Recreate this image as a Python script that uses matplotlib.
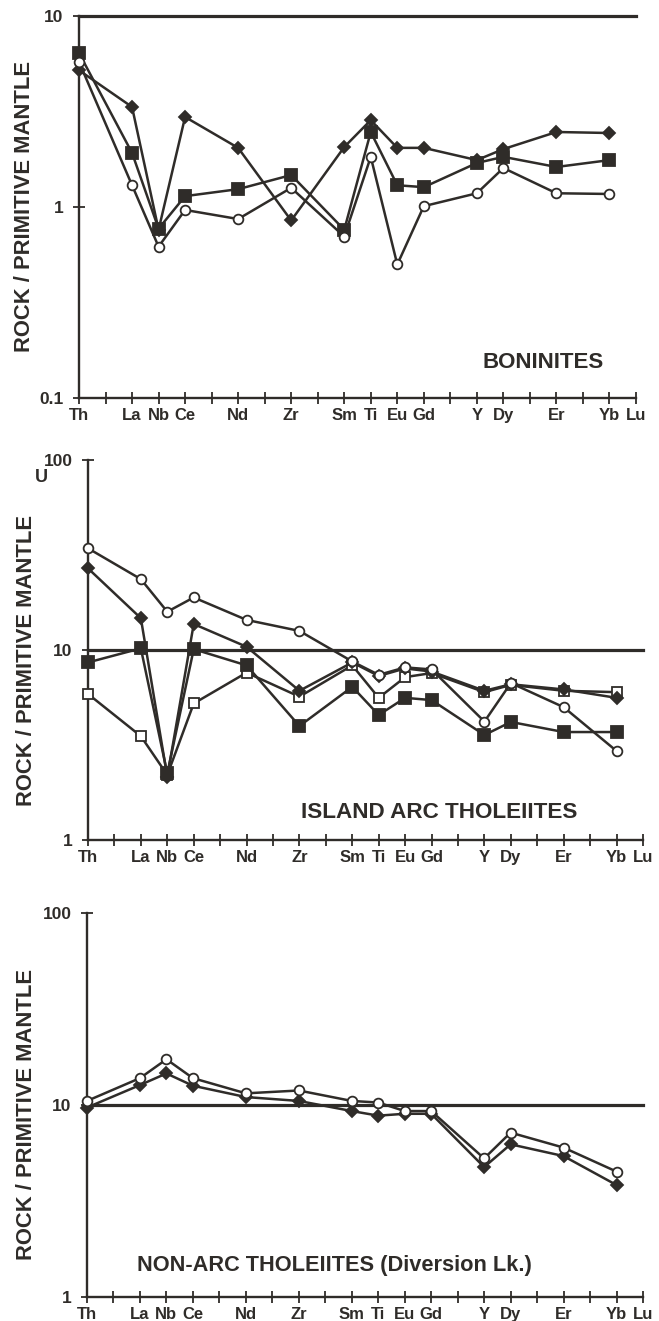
import matplotlib.pyplot as plt
from matplotlib.ticker import FixedLocator, NullLocator, FixedFormatter

# ------------------------------------------------------------
# Primitive-mantle normalised spider diagrams, three panels
# ------------------------------------------------------------

plt.rcParams['font.family'] = ['Liberation Sans', 'DejaVu Sans']

INK = '#2f2c29'

# element order along the x axis ('' = tick without a label)
tick_labels = ['Th', '', 'La', 'Nb', 'Ce', '', 'Nd', '', 'Zr', '', 'Sm',
               'Ti', 'Eu', 'Gd', '', 'Y', 'Dy', '', 'Er', '', 'Yb', 'Lu']
elements = ['Th', 'La', 'Nb', 'Ce', 'Nd', 'Zr', 'Sm', 'Ti', 'Eu', 'Gd',
            'Y', 'Dy', 'Er', 'Yb']
xpos = [tick_labels.index(e) for e in elements]

# --- boninites ---
bon_diamond = [5.2, 3.34, 0.76, 2.96, 2.04, 0.85, 2.06, 2.85, 2.04, 2.04, 1.76, 2.01, 2.47, 2.44]
bon_square  = [6.4, 1.92, 0.77, 1.14, 1.24, 1.47, 0.76, 2.47, 1.30, 1.27, 1.70, 1.83, 1.62, 1.76]
bon_circle  = [5.75, 1.30, 0.62, 0.965, 0.865, 1.26, 0.70, 1.83, 0.50, 1.01, 1.18, 1.60, 1.18, 1.17]

# --- island arc tholeiites ---
iat_circle  = [34.3, 23.6, 15.9, 18.9, 14.4, 12.6, 8.7, 7.4, 8.1, 7.9, 4.2, 6.7, 5.0, 2.94]
iat_diamond = [26.9, 14.7, 2.15, 13.7, 10.4, 6.1, 8.6, 7.3, 8.0, 7.7, 6.1, 6.6, 6.2, 5.6]
iat_fsquare = [8.6, 10.2, 2.24, 10.1, 8.3, 3.98, 6.4, 4.55, 5.6, 5.45, 3.57, 4.18, 3.7, 3.7]
iat_osquare = [5.87, 3.52, 2.2, 5.23, 7.6, 5.68, 8.3, 5.6, 7.2, 7.56, 6.0, 6.55, 6.1, 6.0]

# --- non-arc tholeiites (Diversion Lk.) ---
nat_circle  = [10.5, 13.8, 17.3, 13.8, 11.5, 11.9, 10.5, 10.3, 9.3, 9.3, 5.27, 7.18, 6.0, 4.5]
nat_diamond = [9.7, 12.7, 14.6, 12.6, 11.0, 10.5, 9.3, 8.8, 9.0, 9.0, 4.75, 6.24, 5.42, 3.83]

W, H = 659, 1321
fig = plt.figure(figsize=(W / 100, H / 100), dpi=100)
fig.patch.set_facecolor('white')


def px_axes(x0, x1, ytop, ybot):
    return fig.add_axes([x0 / W, 1 - ybot / H, (x1 - x0) / W, (ybot - ytop) / H])


def style(ax, ylim, yticks, ylabels):
    ax.set_yscale('log')
    ax.set_xlim(0, len(tick_labels) - 1)
    ax.set_ylim(*ylim)
    for s in ('top', 'right'):
        ax.spines[s].set_visible(False)
    for s in ('left', 'bottom'):
        ax.spines[s].set_linewidth(1.7)
        ax.spines[s].set_color(INK)
    ax.xaxis.set_major_locator(FixedLocator(range(len(tick_labels))))
    ax.xaxis.set_major_formatter(FixedFormatter(tick_labels))
    ax.yaxis.set_major_locator(FixedLocator(yticks))
    ax.yaxis.set_major_formatter(FixedFormatter(ylabels))
    ax.yaxis.set_minor_locator(NullLocator())
    ax.tick_params(axis='x', direction='inout', length=8, width=1.3,
                   color=INK, labelcolor=INK, labelsize=12, pad=3)
    ax.tick_params(axis='y', direction='inout', length=8, width=1.3,
                   color=INK, labelcolor=INK, labelsize=12.5, pad=7)
    for lab in ax.get_xticklabels() + ax.get_yticklabels():
        lab.set_fontweight('bold')
    ax.set_facecolor('none')


def series(ax, vals, marker, face, ms):
    ax.plot(xpos, vals, color=INK, lw=1.8, marker=marker, ms=ms,
            mfc=face, mec=INK, mew=1.3, clip_on=False, zorder=3)


def ref_line(ax):
    ax.axhline(10, color=INK, lw=2.3, clip_on=False, zorder=2)


def ylabel(xc, yc):
    fig.text(xc / W, 1 - yc / H, 'ROCK / PRIMITIVE MANTLE', rotation=90,
             ha='center', va='center', fontsize=15.8, fontweight='bold', color=INK)


# panel 1: boninites
ax1 = px_axes(79, 636, 16, 398)
style(ax1, (0.1, 10), [0.1, 1, 10], ['0.1', '1', '10'])
ref_line(ax1)
series(ax1, bon_diamond, 'D', INK, 6.5)
series(ax1, bon_square, 's', INK, 8)
series(ax1, bon_circle, 'o', 'white', 7)
ax1.text((543 - 79) / 557, (398 - 362) / 382, 'BONINITES', transform=ax1.transAxes,
         ha='center', va='center', fontsize=16, fontweight='bold', color=INK)
ylabel(25, 207)

# panel 2: island arc tholeiites
ax2 = px_axes(88, 643, 460, 840)
style(ax2, (1, 100), [1, 10, 100], ['1', '10', '100'])
ref_line(ax2)
series(ax2, iat_osquare, 's', 'white', 7.5)
series(ax2, iat_fsquare, 's', INK, 8)
series(ax2, iat_diamond, 'D', INK, 6.5)
series(ax2, iat_circle, 'o', 'white', 7)
ax2.text((439 - 88) / 555, (840 - 812) / 380, 'ISLAND ARC THOLEIITES', transform=ax2.transAxes,
         ha='center', va='center', fontsize=16.2, fontweight='bold', color=INK)
fig.text(41 / W, 1 - 477 / H, 'U', ha='center', va='center',
         fontsize=13, fontweight='bold', color=INK)
ylabel(27, 660)

# panel 3: non-arc tholeiites
ax3 = px_axes(87, 643, 913, 1297)
style(ax3, (1, 100), [1, 10, 100], ['1', '10', '100'])
ref_line(ax3)
series(ax3, nat_diamond, 'D', INK, 6.5)
series(ax3, nat_circle, 'o', 'white', 7)
ax3.text((137 - 87) / 556, (1297 - 1266) / 384, 'NON-ARC THOLEIITES (Diversion Lk.)',
         transform=ax3.transAxes, ha='left', va='center', fontsize=15.7,
         fontweight='bold', color=INK)
ylabel(27, 1114)

fig.savefig('out.png', dpi=100)
